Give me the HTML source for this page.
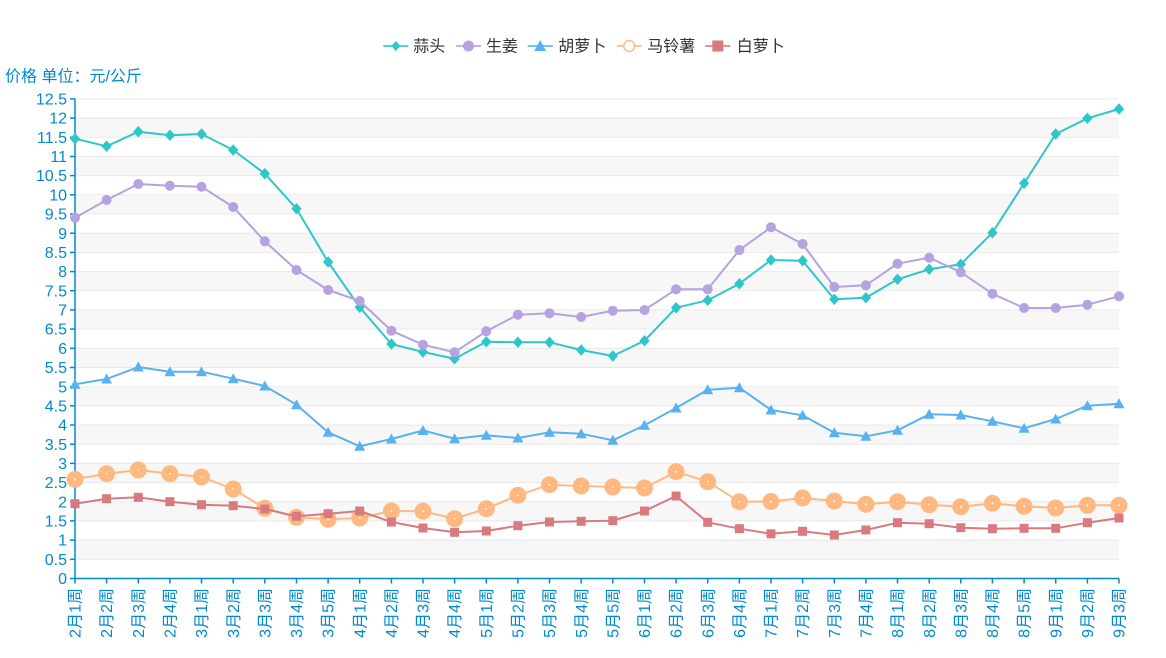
<!DOCTYPE html>
<html>
<head>
<meta charset="utf-8">
<style>
  html, body { margin:0; padding:0; background:#fff; }
  body { width:1166px; height:658px; overflow:hidden; }
  svg { display:block; font-family:"Liberation Sans","Noto Sans CJK SC",sans-serif; }
</style>
</head>
<body>
<svg width="1166" height="658" viewBox="0 0 1166 658" xmlns="http://www.w3.org/2000/svg">
  <defs>
    <marker id="mDia" markerUnits="userSpaceOnUse" markerWidth="12" markerHeight="12" refX="0" refY="0" overflow="visible">
      <path d="M0,-5 L4.5,0 L0,5 L-4.5,0Z" fill="#2ec7c9" stroke="#2ec7c9" stroke-width="1"/>
    </marker>
    <marker id="mCir" markerUnits="userSpaceOnUse" markerWidth="12" markerHeight="12" refX="0" refY="0" overflow="visible">
      <circle cx="0" cy="0" r="5" fill="#b6a2de"/>
    </marker>
    <marker id="mTri" markerUnits="userSpaceOnUse" markerWidth="12" markerHeight="12" refX="0" refY="0" overflow="visible">
      <path d="M0,-5.5 L5.5,4.5 L-5.5,4.5Z" fill="#5ab1ef"/>
    </marker>
    <marker id="mPot" markerUnits="userSpaceOnUse" markerWidth="20" markerHeight="20" refX="0" refY="0" overflow="visible">
      <circle cx="0" cy="0" r="8.5" fill="#ffb980"/>
      <circle cx="0" cy="0" r="0.9" fill="#fff"/>
    </marker>
    <marker id="mSq" markerUnits="userSpaceOnUse" markerWidth="12" markerHeight="12" refX="0" refY="0" overflow="visible">
      <rect x="-4.5" y="-4.5" width="9" height="9" fill="#d87a80"/>
    </marker>
  </defs>

  <!-- legend -->
  <g font-size="16" fill="#333">
    <line x1="383.3" y1="46" x2="408.3" y2="46" stroke="#2ec7c9" stroke-width="2" opacity="0.8"/>
    <path d="M395.8,41 L400.3,46 L395.8,51 L391.3,46Z" fill="#2ec7c9"/>
    <text x="413.3" y="46" dy="0.35em">蒜头</text>

    <line x1="456" y1="46" x2="481" y2="46" stroke="#b6a2de" stroke-width="2" opacity="0.8"/>
    <circle cx="468.5" cy="46" r="5.5" fill="#b6a2de"/>
    <text x="486" y="46" dy="0.35em">生姜</text>

    <line x1="527.7" y1="46" x2="552.7" y2="46" stroke="#5ab1ef" stroke-width="2" opacity="0.8"/>
    <path d="M540.2,40 L546.2,51 L534.2,51Z" fill="#5ab1ef"/>
    <text x="558.3" y="46" dy="0.35em">胡萝卜</text>

    <line x1="616.7" y1="46" x2="641.7" y2="46" stroke="#ffb980" stroke-width="2" opacity="0.8"/>
    <circle cx="629.2" cy="46" r="5.5" fill="#fff" stroke="#ffb980" stroke-width="1.5"/>
    <text x="647.3" y="46" dy="0.35em">马铃薯</text>

    <line x1="705.3" y1="46" x2="730.3" y2="46" stroke="#d87a80" stroke-width="2" opacity="0.8"/>
    <rect x="712.3" y="40.5" width="11" height="11" fill="#d87a80"/>
    <text x="736.7" y="46" dy="0.35em">白萝卜</text>
  </g>

  <!-- axis name -->
  <text x="5" y="76" dy="0.35em" font-size="16" fill="#008acd">价格 单位：元/公斤</text>

  <!-- split areas -->
  <g fill="#f7f7f7">
    <rect x="75" y="540.1" width="1044" height="19.2"/>
    <rect x="75" y="501.8" width="1044" height="19.1"/>
    <rect x="75" y="463.4" width="1044" height="19.2"/>
    <rect x="75" y="425.0" width="1044" height="19.2"/>
    <rect x="75" y="386.7" width="1044" height="19.1"/>
    <rect x="75" y="348.3" width="1044" height="19.2"/>
    <rect x="75" y="309.9" width="1044" height="19.2"/>
    <rect x="75" y="271.6" width="1044" height="19.1"/>
    <rect x="75" y="233.2" width="1044" height="19.2"/>
    <rect x="75" y="194.8" width="1044" height="19.2"/>
    <rect x="75" y="156.5" width="1044" height="19.1"/>
    <rect x="75" y="118.1" width="1044" height="19.2"/>
  </g>

  <!-- split lines -->
  <g stroke="#e9e9e9" stroke-width="1">
    <line x1="75" x2="1119" y1="559.3" y2="559.3"/>
    <line x1="75" x2="1119" y1="540.1" y2="540.1"/>
    <line x1="75" x2="1119" y1="520.9" y2="520.9"/>
    <line x1="75" x2="1119" y1="501.8" y2="501.8"/>
    <line x1="75" x2="1119" y1="482.6" y2="482.6"/>
    <line x1="75" x2="1119" y1="463.4" y2="463.4"/>
    <line x1="75" x2="1119" y1="444.2" y2="444.2"/>
    <line x1="75" x2="1119" y1="425.0" y2="425.0"/>
    <line x1="75" x2="1119" y1="405.8" y2="405.8"/>
    <line x1="75" x2="1119" y1="386.7" y2="386.7"/>
    <line x1="75" x2="1119" y1="367.5" y2="367.5"/>
    <line x1="75" x2="1119" y1="348.3" y2="348.3"/>
    <line x1="75" x2="1119" y1="329.1" y2="329.1"/>
    <line x1="75" x2="1119" y1="309.9" y2="309.9"/>
    <line x1="75" x2="1119" y1="290.7" y2="290.7"/>
    <line x1="75" x2="1119" y1="271.6" y2="271.6"/>
    <line x1="75" x2="1119" y1="252.4" y2="252.4"/>
    <line x1="75" x2="1119" y1="233.2" y2="233.2"/>
    <line x1="75" x2="1119" y1="214.0" y2="214.0"/>
    <line x1="75" x2="1119" y1="194.8" y2="194.8"/>
    <line x1="75" x2="1119" y1="175.6" y2="175.6"/>
    <line x1="75" x2="1119" y1="156.5" y2="156.5"/>
    <line x1="75" x2="1119" y1="137.3" y2="137.3"/>
    <line x1="75" x2="1119" y1="118.1" y2="118.1"/>
    <line x1="75" x2="1119" y1="98.9" y2="98.9"/>
  </g>

  <!-- y axis -->
  <g stroke="#008acd" stroke-width="1.5">
    <line x1="75" y1="98.9" x2="75" y2="578.5"/>
    <line x1="70" x2="75" y1="578.5" y2="578.5"/>
    <line x1="70" x2="75" y1="559.3" y2="559.3"/>
    <line x1="70" x2="75" y1="540.1" y2="540.1"/>
    <line x1="70" x2="75" y1="520.9" y2="520.9"/>
    <line x1="70" x2="75" y1="501.8" y2="501.8"/>
    <line x1="70" x2="75" y1="482.6" y2="482.6"/>
    <line x1="70" x2="75" y1="463.4" y2="463.4"/>
    <line x1="70" x2="75" y1="444.2" y2="444.2"/>
    <line x1="70" x2="75" y1="425.0" y2="425.0"/>
    <line x1="70" x2="75" y1="405.8" y2="405.8"/>
    <line x1="70" x2="75" y1="386.7" y2="386.7"/>
    <line x1="70" x2="75" y1="367.5" y2="367.5"/>
    <line x1="70" x2="75" y1="348.3" y2="348.3"/>
    <line x1="70" x2="75" y1="329.1" y2="329.1"/>
    <line x1="70" x2="75" y1="309.9" y2="309.9"/>
    <line x1="70" x2="75" y1="290.7" y2="290.7"/>
    <line x1="70" x2="75" y1="271.6" y2="271.6"/>
    <line x1="70" x2="75" y1="252.4" y2="252.4"/>
    <line x1="70" x2="75" y1="233.2" y2="233.2"/>
    <line x1="70" x2="75" y1="214.0" y2="214.0"/>
    <line x1="70" x2="75" y1="194.8" y2="194.8"/>
    <line x1="70" x2="75" y1="175.6" y2="175.6"/>
    <line x1="70" x2="75" y1="156.5" y2="156.5"/>
    <line x1="70" x2="75" y1="137.3" y2="137.3"/>
    <line x1="70" x2="75" y1="118.1" y2="118.1"/>
    <line x1="70" x2="75" y1="98.9" y2="98.9"/>
  </g>
  <g font-size="16" fill="#008acd" text-anchor="end">
    <text x="67" y="578.5" dy="0.35em">0</text>
    <text x="67" y="559.3" dy="0.35em">0.5</text>
    <text x="67" y="540.1" dy="0.35em">1</text>
    <text x="67" y="520.9" dy="0.35em">1.5</text>
    <text x="67" y="501.8" dy="0.35em">2</text>
    <text x="67" y="482.6" dy="0.35em">2.5</text>
    <text x="67" y="463.4" dy="0.35em">3</text>
    <text x="67" y="444.2" dy="0.35em">3.5</text>
    <text x="67" y="425.0" dy="0.35em">4</text>
    <text x="67" y="405.8" dy="0.35em">4.5</text>
    <text x="67" y="386.7" dy="0.35em">5</text>
    <text x="67" y="367.5" dy="0.35em">5.5</text>
    <text x="67" y="348.3" dy="0.35em">6</text>
    <text x="67" y="329.1" dy="0.35em">6.5</text>
    <text x="67" y="309.9" dy="0.35em">7</text>
    <text x="67" y="290.7" dy="0.35em">7.5</text>
    <text x="67" y="271.6" dy="0.35em">8</text>
    <text x="67" y="252.4" dy="0.35em">8.5</text>
    <text x="67" y="233.2" dy="0.35em">9</text>
    <text x="67" y="214.0" dy="0.35em">9.5</text>
    <text x="67" y="194.8" dy="0.35em">10</text>
    <text x="67" y="175.6" dy="0.35em">10.5</text>
    <text x="67" y="156.5" dy="0.35em">11</text>
    <text x="67" y="137.3" dy="0.35em">11.5</text>
    <text x="67" y="118.1" dy="0.35em">12</text>
    <text x="67" y="98.9" dy="0.35em">12.5</text>
  </g>

  <!-- x axis -->
  <g stroke="#008acd" stroke-width="1.5">
    <line x1="75" y1="578.5" x2="1119" y2="578.5"/>
    <path d="M75,578.5v5 M106.6,578.5v5 M138.3,578.5v5 M169.9,578.5v5 M201.5,578.5v5 M233.2,578.5v5 M264.8,578.5v5 M296.5,578.5v5 M328.1,578.5v5 M359.7,578.5v5 M391.4,578.5v5 M423,578.5v5 M454.6,578.5v5 M486.3,578.5v5 M517.9,578.5v5 M549.5,578.5v5 M581.2,578.5v5 M612.8,578.5v5 M644.5,578.5v5 M676.1,578.5v5 M707.7,578.5v5 M739.4,578.5v5 M771,578.5v5 M802.6,578.5v5 M834.3,578.5v5 M865.9,578.5v5 M897.5,578.5v5 M929.2,578.5v5 M960.8,578.5v5 M992.4,578.5v5 M1024.1,578.5v5 M1055.7,578.5v5 M1087.4,578.5v5 M1119,578.5v5" fill="none"/>
  </g>
  <g font-size="16" fill="#008acd" text-anchor="end">
    <text transform="translate(75,588) rotate(-90)" dy="0.35em">2月1周</text>
    <text transform="translate(106.6,588) rotate(-90)" dy="0.35em">2月2周</text>
    <text transform="translate(138.3,588) rotate(-90)" dy="0.35em">2月3周</text>
    <text transform="translate(169.9,588) rotate(-90)" dy="0.35em">2月4周</text>
    <text transform="translate(201.5,588) rotate(-90)" dy="0.35em">3月1周</text>
    <text transform="translate(233.2,588) rotate(-90)" dy="0.35em">3月2周</text>
    <text transform="translate(264.8,588) rotate(-90)" dy="0.35em">3月3周</text>
    <text transform="translate(296.5,588) rotate(-90)" dy="0.35em">3月4周</text>
    <text transform="translate(328.1,588) rotate(-90)" dy="0.35em">3月5周</text>
    <text transform="translate(359.7,588) rotate(-90)" dy="0.35em">4月1周</text>
    <text transform="translate(391.4,588) rotate(-90)" dy="0.35em">4月2周</text>
    <text transform="translate(423,588) rotate(-90)" dy="0.35em">4月3周</text>
    <text transform="translate(454.6,588) rotate(-90)" dy="0.35em">4月4周</text>
    <text transform="translate(486.3,588) rotate(-90)" dy="0.35em">5月1周</text>
    <text transform="translate(517.9,588) rotate(-90)" dy="0.35em">5月2周</text>
    <text transform="translate(549.5,588) rotate(-90)" dy="0.35em">5月3周</text>
    <text transform="translate(581.2,588) rotate(-90)" dy="0.35em">5月4周</text>
    <text transform="translate(612.8,588) rotate(-90)" dy="0.35em">5月5周</text>
    <text transform="translate(644.5,588) rotate(-90)" dy="0.35em">6月1周</text>
    <text transform="translate(676.1,588) rotate(-90)" dy="0.35em">6月2周</text>
    <text transform="translate(707.7,588) rotate(-90)" dy="0.35em">6月3周</text>
    <text transform="translate(739.4,588) rotate(-90)" dy="0.35em">6月4周</text>
    <text transform="translate(771,588) rotate(-90)" dy="0.35em">7月1周</text>
    <text transform="translate(802.6,588) rotate(-90)" dy="0.35em">7月2周</text>
    <text transform="translate(834.3,588) rotate(-90)" dy="0.35em">7月3周</text>
    <text transform="translate(865.9,588) rotate(-90)" dy="0.35em">7月4周</text>
    <text transform="translate(897.5,588) rotate(-90)" dy="0.35em">8月1周</text>
    <text transform="translate(929.2,588) rotate(-90)" dy="0.35em">8月2周</text>
    <text transform="translate(960.8,588) rotate(-90)" dy="0.35em">8月3周</text>
    <text transform="translate(992.4,588) rotate(-90)" dy="0.35em">8月4周</text>
    <text transform="translate(1024.1,588) rotate(-90)" dy="0.35em">8月5周</text>
    <text transform="translate(1055.7,588) rotate(-90)" dy="0.35em">9月1周</text>
    <text transform="translate(1087.4,588) rotate(-90)" dy="0.35em">9月2周</text>
    <text transform="translate(1119,588) rotate(-90)" dy="0.35em">9月3周</text>
  </g>

  <!-- series -->
  <g fill="none" stroke-width="2" stroke-linejoin="round" stroke-linecap="round">
    <!-- 蒜头 -->
    <polyline stroke="#2ec7c9" marker-start="url(#mDia)" marker-mid="url(#mDia)" marker-end="url(#mDia)"
      points="75,138.7 106.6,146.3 138.3,131.7 169.9,135.3 201.5,134 233.2,150 264.8,173.7 296.5,208.7 328.1,262 359.7,307.3 391.4,344 423,352 454.6,358.7 486.3,341.7 517.9,342.3 549.5,342.3 581.2,350 612.8,356 644.5,340.7 676.1,307.7 707.7,300.3 739.4,283.7 771,260 802.6,260.7 834.3,299.3 865.9,297.7 897.5,279.3 929.2,269.3 960.8,264.3 992.4,232.7 1024.1,183.3 1055.7,134 1087.4,118.3 1119,109"/>
    <!-- 生姜 -->
    <polyline stroke="#b6a2de" marker-start="url(#mCir)" marker-mid="url(#mCir)" marker-end="url(#mCir)"
      points="75,217.7 106.6,200 138.3,184 169.9,185.7 201.5,186.7 233.2,207 264.8,241.3 296.5,270 328.1,290 359.7,301 391.4,330.7 423,344.7 454.6,352.3 486.3,331.3 517.9,314.7 549.5,313.3 581.2,317 612.8,310.7 644.5,310 676.1,289.3 707.7,289.3 739.4,250 771,227.2 802.6,244 834.3,287 865.9,285.3 897.5,263.7 929.2,257.7 960.8,272.3 992.4,293.7 1024.1,308 1055.7,308 1087.4,304.7 1119,296.3"/>
    <!-- 胡萝卜 -->
    <polyline stroke="#5ab1ef" marker-start="url(#mTri)" marker-mid="url(#mTri)" marker-end="url(#mTri)"
      points="75,384.3 106.6,379 138.3,367 169.9,371.7 201.5,371.7 233.2,378.7 264.8,386 296.5,404.7 328.1,432.3 359.7,446.3 391.4,439 423,430.5 454.6,438.7 486.3,435.3 517.9,438 549.5,432.3 581.2,433.7 612.8,440.3 644.5,425.3 676.1,408 707.7,389.7 739.4,387.7 771,410 802.6,415.3 834.3,432.7 865.9,436.3 897.5,430.3 929.2,414.3 960.8,415 992.4,421.3 1024.1,428.3 1055.7,419 1087.4,405.7 1119,403.7"/>
    <!-- 马铃薯 -->
    <polyline stroke="#ffb980" marker-start="url(#mPot)" marker-mid="url(#mPot)" marker-end="url(#mPot)"
      points="75,479.3 106.6,473.7 138.3,470 169.9,473.7 201.5,477 233.2,489 264.8,508.3 296.5,517.3 328.1,519.3 359.7,518 391.4,511 423,511.2 454.6,518.7 486.3,508.7 517.9,495.3 549.5,484.7 581.2,486 612.8,487 644.5,488 676.1,471.7 707.7,481.7 739.4,501.7 771,501.5 802.6,498 834.3,501 865.9,504.3 897.5,501.7 929.2,504.7 960.8,506.7 992.4,503.3 1024.1,506.3 1055.7,508 1087.4,505.3 1119,505.3"/>
    <!-- 白萝卜 -->
    <polyline stroke="#d87a80" marker-start="url(#mSq)" marker-mid="url(#mSq)" marker-end="url(#mSq)"
      points="75,503.7 106.6,498.7 138.3,497.3 169.9,501.7 201.5,504.7 233.2,505.7 264.8,509 296.5,516.3 328.1,513.7 359.7,511 391.4,522 423,528 454.6,532.3 486.3,531 517.9,525.7 549.5,522 581.2,521.3 612.8,520.7 644.5,511 676.1,496 707.7,522.3 739.4,528.7 771,533.8 802.6,531.3 834.3,535 865.9,530 897.5,522.7 929.2,523.7 960.8,527.7 992.4,528.7 1024.1,528.3 1055.7,528.3 1087.4,522.7 1119,518"/>
  </g>
</svg>
</body>
</html>
